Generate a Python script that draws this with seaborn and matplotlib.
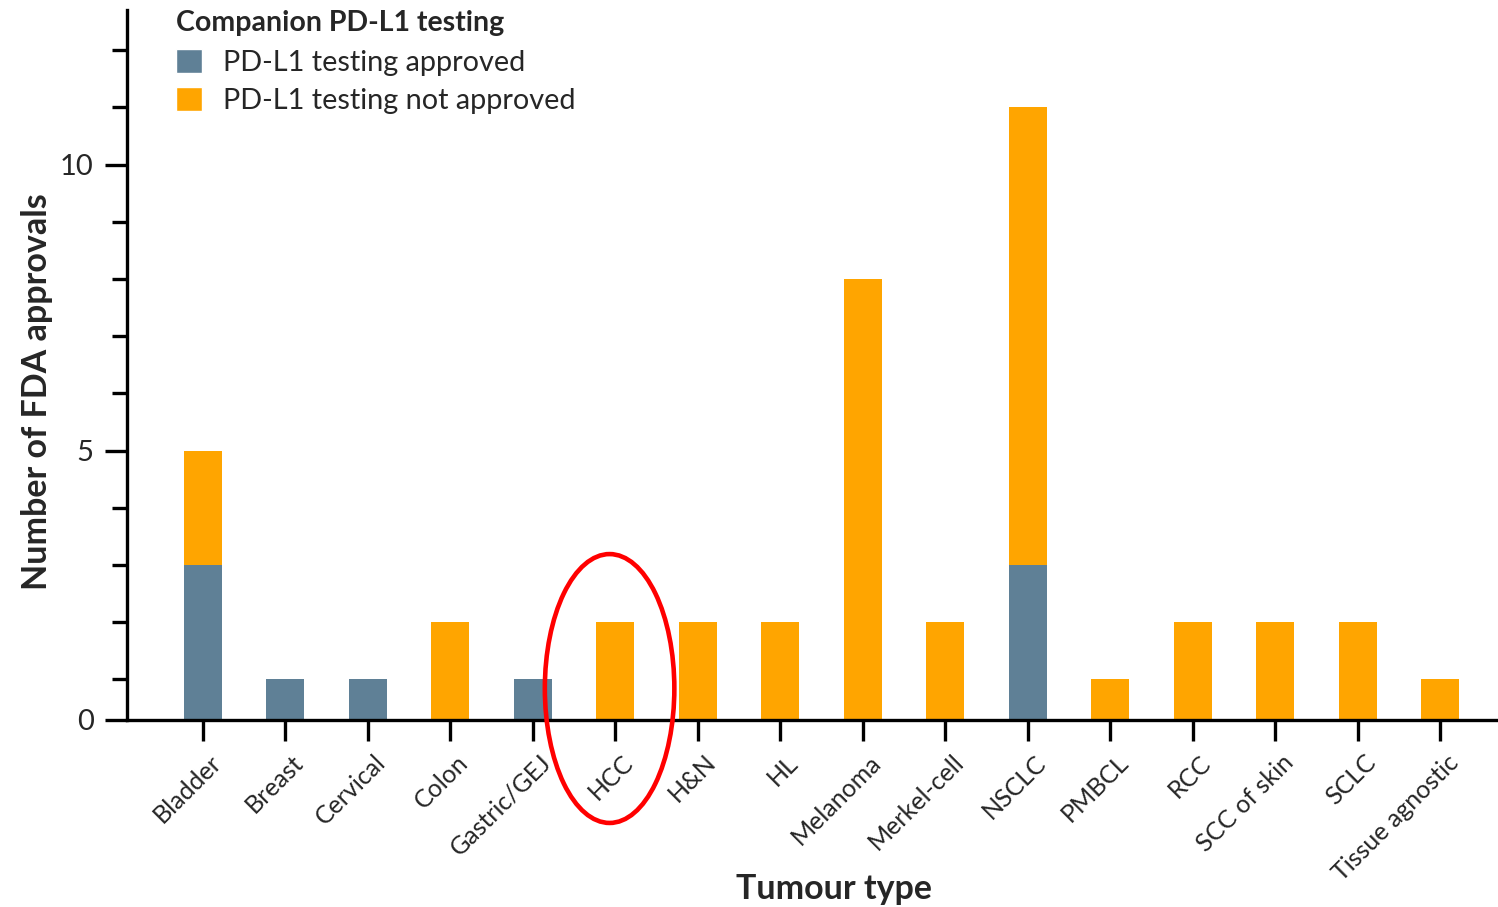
import numpy as np
import pandas as pd
import matplotlib
matplotlib.use("Agg")
import matplotlib.pyplot as plt
import matplotlib.transforms as mtrans
from matplotlib.patches import Ellipse, Patch
import seaborn as sns

tumours = ["Bladder", "Breast", "Cervical", "Colon", "Gastric/GEJ", "HCC", "H&N", "HL",
           "Melanoma", "Merkel-cell", "NSCLC", "PMBCL", "RCC", "SCC of skin", "SCLC",
           "Tissue agnostic"]
approved = [3, 1, 1, 0, 1, 0, 0, 0, 0, 0, 3, 0, 0, 0, 0, 0]
not_approved = [2, 0, 0, 2, 0, 2, 2, 2, 8, 2, 8, 1, 2, 2, 2, 1]
highlight = "HCC"

blue = "#5f8096"
orange = "#ffa500"

df = pd.DataFrame({"tumour": tumours, "approved": approved, "not_approved": not_approved})
df["total"] = df["approved"] + df["not_approved"]

sns.set_theme(style="ticks")
plt.rcParams["font.family"] = ["Lato", "DejaVu Sans"]

fig = plt.figure(figsize=(14.98, 9.07), dpi=100)
ax = fig.add_axes([0.0848, 0.2062, 0.9152, 0.7827])

# stacked bars: total in orange, approved part drawn over it in blue
sns.barplot(data=df, x="tumour", y="total", color=orange, width=0.46, saturation=1,
            linewidth=0, ax=ax)
sns.barplot(data=df, x="tumour", y="approved", color=blue, width=0.46, saturation=1,
            linewidth=0, ax=ax)

y0 = 0.29
ax.set_ylim(y0, 12.7)
ax.set_xlim(-0.92, 15.7)
ax.set_yticks([y0, 5, 10])
ax.set_yticklabels(["0", "5", "10"])
ax.set_yticks([1, 2, 3, 4, 6, 7, 8, 9, 11, 12], minor=True)

for s in ["top", "right"]:
    ax.spines[s].set_visible(False)
for s in ["left", "bottom"]:
    ax.spines[s].set_linewidth(2.4)
    ax.spines[s].set_color("black")

ax.tick_params(axis="y", which="major", length=16, width=2.4, labelsize=21, pad=8, color="black")
ax.tick_params(axis="y", which="minor", length=11, width=2.4, color="black")
ax.tick_params(axis="x", which="major", length=15, width=2.4, labelsize=18, pad=7, color="black")
shift = mtrans.ScaledTranslation(0.06, 0, fig.dpi_scale_trans)
for lab in ax.get_xticklabels():
    lab.set_rotation(45)
    lab.set_ha("right")
    lab.set_rotation_mode("anchor")
    lab.set_transform(lab.get_transform() + shift)

ax.set_xlabel("Tumour type", fontsize=24.5, fontweight="bold", va="center")
ax.xaxis.set_label_coords(0.516, -0.238)
ax.set_ylabel("Number of FDA approvals", fontsize=24.5, fontweight="bold", va="center")
ax.yaxis.set_label_coords(-0.0656, 0.462)

handles = [Patch(facecolor=blue, label="PD-L1 testing approved"),
           Patch(facecolor=orange, label="PD-L1 testing not approved")]
leg = ax.legend(handles=handles, title="Companion PD-L1 testing", loc="upper left",
                bbox_to_anchor=(0.027, 1.016), frameon=False, fontsize=20.8,
                title_fontproperties={"weight": "bold", "size": 20.5},
                handlelength=0.9, handleheight=0.9, handletextpad=0.75, labelspacing=0.4,
                borderaxespad=0)
leg._legend_box.align = "left"
leg._legend_box.sep = 9

hx = tumours.index(highlight)
ax.add_patch(Ellipse((hx - 0.07, 0.84), 1.57, 4.7, fill=False, edgecolor="red",
                     linewidth=3.3, clip_on=False, zorder=5))

fig.savefig("out.png", dpi=100)
